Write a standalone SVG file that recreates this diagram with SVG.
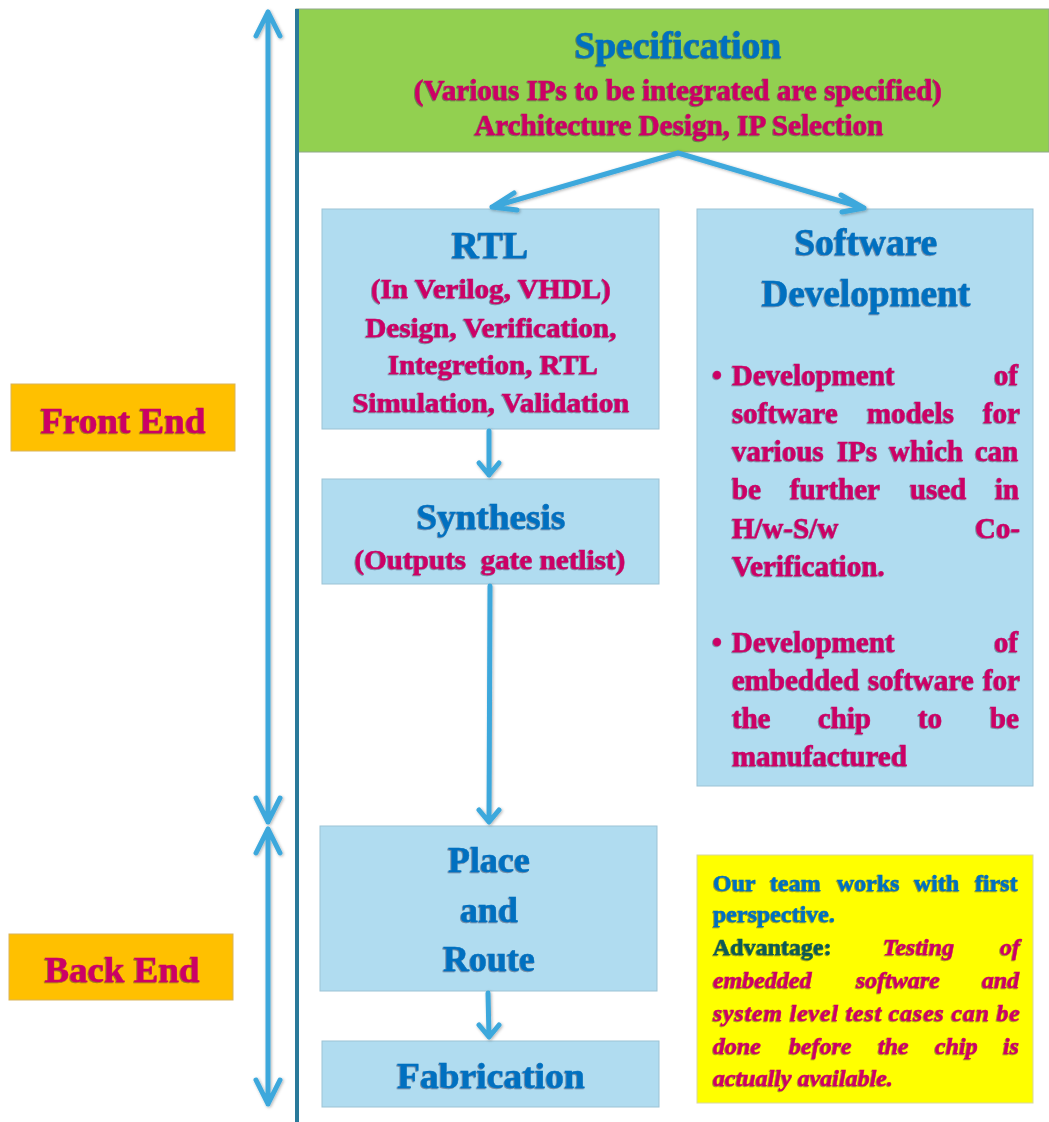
<svg xmlns="http://www.w3.org/2000/svg" width="1049" height="1122" viewBox="0 0 1049 1122">
  <defs>
    <style>
      text { font-family: "Liberation Serif", "Times New Roman", serif; font-weight: bold; stroke-width: 0.45px; }
      .title { fill: #0070C0; stroke: #0070C0; text-anchor: middle; }
      .sub { fill: #CC0066; stroke: #CC0066; text-anchor: middle; }
      .body { fill: #CC0066; stroke: #CC0066; font-size: 29px; }
      .note { font-size: 24px; }
      .blue { fill: #0070C0; stroke: #0070C0; }
      .teal { fill: #0B5A55; stroke: #0B5A55; }
      .mag { fill: #CC0066; stroke: #CC0066; font-style: italic; }
      .box { fill: #B0DCF0; stroke: #9CC3D5; stroke-width: 1; }
      .phase { fill: #FFC000; stroke: #D9B45A; stroke-width: 1; }
      .phase-label { fill: #CC0066; stroke: #CC0066; font-size: 36px; text-anchor: middle; }
      .conn { fill: none; stroke: #3CA8DC; stroke-width: 5; stroke-linecap: round; stroke-linejoin: round; }
    </style>
    <filter id="txt" x="-5%" y="-20%" width="110%" height="140%">
      <feDropShadow dx="-0.8" dy="0.8" stdDeviation="0.2" flood-color="#1a1a3a" flood-opacity="0.55"/>
    </filter>
    <filter id="glow" x="-20%" y="-5%" width="140%" height="110%">
      <feDropShadow dx="1" dy="1" stdDeviation="1.5" flood-color="#000" flood-opacity="0.3"/>
    </filter>
  </defs>

  <rect width="1049" height="1122" fill="#ffffff"/>

  <!-- Specification banner -->
  <g id="spec">
    <rect x="296" y="9" width="753" height="143" fill="#92D050" stroke="#8FA88A" stroke-width="1"/>
    <g filter="url(#txt)">
      <text class="title" x="678" y="58" font-size="37" textLength="207" lengthAdjust="spacingAndGlyphs">Specification</text>
      <text class="sub" x="678" y="100" font-size="29" textLength="528" lengthAdjust="spacingAndGlyphs">(Various IPs to be integrated are specified)</text>
      <text class="sub" x="679" y="135" font-size="29" textLength="409" lengthAdjust="spacingAndGlyphs">Architecture Design, IP Selection</text>
    </g>
  </g>

  <!-- Divider between phase labels and flow -->
  <line x1="297" y1="9" x2="297" y2="1122" stroke="#2A7A9A" stroke-width="4"/>

  <!-- Phase labels -->
  <g id="front-end">
    <rect class="phase" x="11" y="384" width="224" height="67"/>
    <text class="phase-label" x="123" y="433" textLength="165" lengthAdjust="spacingAndGlyphs" filter="url(#txt)">Front End</text>
  </g>
  <g id="back-end">
    <rect class="phase" x="9" y="934" width="224" height="66"/>
    <text class="phase-label" x="122" y="982" textLength="155" lengthAdjust="spacingAndGlyphs" filter="url(#txt)">Back End</text>
  </g>

  <!-- RTL -->
  <g id="rtl">
    <rect class="box" x="322" y="209" width="337" height="220"/>
    <g filter="url(#txt)">
      <text class="title" x="490" y="258" font-size="38">RTL</text>
      <text class="sub" x="491" y="298" font-size="27" textLength="240" lengthAdjust="spacingAndGlyphs">(In Verilog, VHDL)</text>
      <text class="sub" x="491" y="337" font-size="27" textLength="251" lengthAdjust="spacingAndGlyphs">Design, Verification,</text>
      <text class="sub" x="493" y="374" font-size="27" textLength="210" lengthAdjust="spacingAndGlyphs">Integretion, RTL</text>
      <text class="sub" x="491" y="412" font-size="27" textLength="277" lengthAdjust="spacingAndGlyphs">Simulation, Validation</text>
    </g>
  </g>

  <!-- Synthesis -->
  <g id="synthesis">
    <rect class="box" x="322" y="479" width="337" height="105"/>
    <g filter="url(#txt)">
      <text class="title" x="491" y="529" font-size="36" textLength="149" lengthAdjust="spacingAndGlyphs">Synthesis</text>
      <text class="sub" x="490" y="569" font-size="27" textLength="271" lengthAdjust="spacingAndGlyphs" xml:space="preserve">(Outputs  gate netlist)</text>
    </g>
  </g>

  <!-- Software development -->
  <g id="software">
    <rect class="box" x="697" y="209" width="336" height="577"/>
    <g filter="url(#txt)">
      <text class="title" x="866" y="255" font-size="37" textLength="143" lengthAdjust="spacingAndGlyphs">Software</text>
      <text class="title" x="866" y="306" font-size="37" textLength="209" lengthAdjust="spacingAndGlyphs">Development</text>
      <g class="body">
        <text x="712" y="385">•</text>
        <text y="385"><tspan x="732">Development</tspan><tspan x="994">of</tspan></text>
        <text y="423"><tspan x="732">software</tspan><tspan x="867">models</tspan><tspan x="983">for</tspan></text>
        <text y="461"><tspan x="732">various</tspan><tspan x="837">IPs</tspan><tspan x="889">which</tspan><tspan x="975">can</tspan></text>
        <text y="499"><tspan x="732">be</tspan><tspan x="790">further</tspan><tspan x="910">used</tspan><tspan x="995">in</tspan></text>
        <text y="538"><tspan x="732">H/w-S/w</tspan><tspan x="975">Co-</tspan></text>
        <text y="576"><tspan x="732">Verification.</tspan></text>
        <text x="712" y="652">•</text>
        <text y="652"><tspan x="732">Development</tspan><tspan x="994">of</tspan></text>
        <text y="690"><tspan x="732">embedded</tspan><tspan x="868">software</tspan><tspan x="983">for</tspan></text>
        <text y="728"><tspan x="732">the</tspan><tspan x="818">chip</tspan><tspan x="918">to</tspan><tspan x="990">be</tspan></text>
        <text y="766"><tspan x="732">manufactured</tspan></text>
      </g>
    </g>
  </g>

  <!-- Place and Route -->
  <g id="place-route">
    <rect class="box" x="320" y="826" width="337" height="165"/>
    <g filter="url(#txt)">
      <text class="title" x="489" y="872" font-size="36">Place</text>
      <text class="title" x="489" y="922" font-size="36">and</text>
      <text class="title" x="489" y="971" font-size="36">Route</text>
    </g>
  </g>

  <!-- Fabrication -->
  <g id="fabrication">
    <rect class="box" x="322" y="1041" width="337" height="66"/>
    <text class="title" x="491" y="1088" font-size="36" textLength="188" lengthAdjust="spacingAndGlyphs" filter="url(#txt)">Fabrication</text>
  </g>

  <!-- Note -->
  <g id="note">
    <rect x="697" y="855" width="336" height="248" fill="#FFFF00" stroke="#D8D8A0" stroke-width="1"/>
    <g class="note" filter="url(#txt)">
      <text class="blue" y="891"><tspan x="713">Our</tspan><tspan x="770">team</tspan><tspan x="837">works</tspan><tspan x="914">with</tspan><tspan x="975">first</tspan></text>
      <text class="blue" x="713" y="922">perspective.</text>
      <text y="955"><tspan class="teal" x="713">Advantage:</tspan><tspan class="mag" x="883">Testing</tspan><tspan class="mag" x="1000">of</tspan></text>
      <text class="mag" y="988"><tspan x="713">embedded</tspan><tspan x="856">software</tspan><tspan x="982">and</tspan></text>
      <text class="mag" x="713" y="1021" textLength="307" lengthAdjust="spacing">system level test cases can be</text>
      <text class="mag" y="1054"><tspan x="713">done</tspan><tspan x="789">before</tspan><tspan x="878">the</tspan><tspan x="935">chip</tspan><tspan x="1003">is</tspan></text>
      <text class="mag" x="713" y="1086">actually available.</text>
    </g>
  </g>

  <!-- Connectors -->
  <g id="connectors" filter="url(#glow)">
    <!-- phase extent arrows -->
    <path class="conn" d="M268,12 L268,822 M256,36 L268,12 L280,36 M256,798 L268,822 L280,798"/>
    <path class="conn" d="M268,829 L268,1104 M256,853 L268,829 L280,853 M256,1080 L268,1104 L280,1080"/>
    <!-- spec to RTL / software -->
    <path class="conn" d="M678,153 L492,207 M514,193 L492,207 L517,210"/>
    <path class="conn" d="M678,153 L864,208 M841,195 L864,208 L842,212"/>
    <!-- RTL to synthesis -->
    <path class="conn" d="M489,431 L489,475 M479,463 L489,475 L499,463"/>
    <!-- synthesis to place and route -->
    <path class="conn" d="M490,586 L489,822 M479,810 L489,822 L499,810"/>
    <!-- place and route to fabrication -->
    <path class="conn" d="M488,993 L489,1037 M479,1025 L489,1037 L499,1025"/>
  </g>
</svg>
